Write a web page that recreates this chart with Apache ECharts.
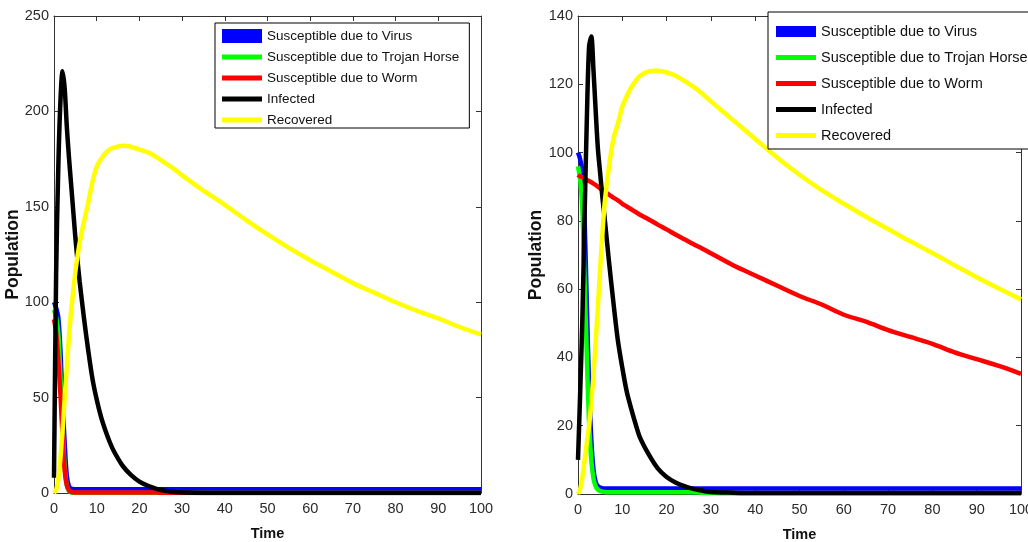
<!DOCTYPE html>
<html>
<head>
<meta charset="utf-8">
<script src="https://cdn.jsdelivr.net/npm/echarts@6/dist/echarts.min.js"></script>
<style>
  html, body { margin: 0; padding: 0; background: #fff; }
  #chart { width: 1028px; height: 542px; }
</style>
</head>
<body>
<div id="chart"></div>
<script>
// Shared time samples (denser at the start where the dynamics are fast)
const time = [0, 0.5, 1, 1.5, 2, 2.5, 3, 3.5, 4, 4.5,
              5, 5.5, 6, 7, 8, 9, 10, 11, 12, 13,
              14, 16, 18, 20, 22, 24, 26, 28, 30, 35,
              40, 45, 50, 55, 60, 65, 70, 75, 80, 85,
              90, 95, 100];

const seriesNames = ['Susceptible due to Virus', 'Susceptible due to Trojan Horse',
                     'Susceptible due to Worm', 'Infected', 'Recovered'];
const seriesColors = ['#0000ff', '#00ff00', '#ff0000', '#000000', '#ffff00'];

const timeTicks = [0, 10, 20, 30, 40, 50, 60, 70, 80, 90, 100];
const popTicksA = [0, 50, 100, 150, 200, 250];
const popTicksB = [0, 20, 40, 60, 80, 100, 120, 140];

// Panel A
const virusA = [100, 97, 92, 75, 48, 26, 9, 3.5, 2.3, 2.1,
                2, 2, 2, 2, 2, 2, 2, 2, 2, 2,
                2, 2, 2, 2, 2, 2, 2, 2, 2, 2,
                2, 2, 2, 2, 2, 2, 2, 2, 2, 2,
                2, 2, 2];
const trojanA = [96, 92, 84, 62, 35, 14, 4, 1, 0.3, 0,
                 0, 0, 0, 0, 0, 0, 0, 0, 0, 0,
                 0, 0, 0, 0, 0, 0, 0, 0, 0, 0,
                 0, 0, 0, 0, 0, 0, 0, 0, 0, 0,
                 0, 0, 0];
const wormA = [91, 84, 70, 52, 30, 12, 4, 1.5, 0.6, 0.3,
               0.2, 0.2, 0.2, 0.2, 0.2, 0.2, 0.2, 0.2, 0.2, 0.2,
               0.2, 0.2, 0.2, 0.2, 0.2, 0.2, 0.1, 0.1, 0, 0,
               0, 0, 0, 0, 0, 0, 0, 0, 0, 0,
               0, 0, 0];
const infectedA = [8, 115, 170, 205, 221, 212, 192, 176, 162, 148,
                   134, 122, 111, 92, 75, 60, 49, 40, 33, 27,
                   22, 14.5, 9.5, 6, 3.8, 2.2, 1.2, 0.5, 0.2, 0,
                   0, 0, 0, 0, 0, 0, 0, 0, 0, 0,
                   0, 0, 0];
const recoveredA = [0, 1.5, 7, 18, 33, 50, 66, 82, 95, 106,
                    116, 124, 131, 142, 152, 163, 171, 175, 178, 180,
                    181, 182, 181.5, 180, 178.5, 176, 173, 170, 166.5, 158.5,
                    151, 143, 135.5, 128.5, 122, 116, 110, 105, 100, 95.5,
                    91.5, 87, 83];

// Panel B
const virusB = [100, 98, 94, 80, 55, 32, 16, 7, 3.5, 2.3,
                1.9, 1.7, 1.6, 1.6, 1.6, 1.6, 1.6, 1.6, 1.6, 1.6,
                1.6, 1.6, 1.6, 1.6, 1.6, 1.6, 1.6, 1.6, 1.6, 1.6,
                1.6, 1.6, 1.6, 1.6, 1.6, 1.6, 1.6, 1.6, 1.6, 1.6,
                1.6, 1.6, 1.6];
const trojanB = [96, 92, 83, 62, 40, 21, 10, 4.5, 2.2, 1.3,
                 0.9, 0.7, 0.6, 0.5, 0.5, 0.5, 0.5, 0.5, 0.5, 0.5,
                 0.5, 0.5, 0.5, 0.5, 0.5, 0.5, 0.5, 0.4, 0.3, 0.2,
                 0.2, 0.2, 0.2, 0.2, 0.2, 0.2, 0.2, 0.2, 0.2, 0.2,
                 0.2, 0.2, 0.2];
const wormB = [93.5, 93, 92.8, 92.5, 92, 91.7, 91.3, 90.9, 90.5, 90,
               89.5, 89, 88.5, 87.7, 86.8, 86, 85, 84.2, 83.4, 82.6,
               81.8, 80.4, 78.9, 77.5, 76, 74.6, 73.2, 71.9, 70.5, 67,
               64, 61, 58, 55.5, 52.5, 50.5, 48, 46, 44, 41.5,
               39.5, 37.5, 35.2];
const infectedB = [10, 30, 52, 82, 110, 131, 134, 124, 112, 101,
                   94, 87, 81, 68, 56, 45, 37, 30, 25, 20.5,
                   16.5, 11.5, 7.5, 5, 3.4, 2.3, 1.5, 1, 0.6, 0.4,
                   0.3, 0.3, 0.3, 0.3, 0.3, 0.3, 0.3, 0.3, 0.3, 0.3,
                   0.3, 0.3, 0.3];
const recoveredB = [0, 1.5, 5, 10, 15, 20, 27, 35, 45, 55,
                    66, 76, 85, 96, 104, 108.5, 113.5, 116.5, 119, 121,
                    122.5, 123.8, 124, 123.5, 122.5, 121, 119.3, 117.3, 115, 109.5,
                    104, 98.5, 93.5, 89, 85, 81.2, 77.6, 74, 70.6, 67,
                    63.5, 60.2, 57];

const panelA = [virusA, trojanA, wormA, infectedA, recoveredA];
const panelB = [virusB, trojanB, wormB, infectedB, recoveredB];

const pairs = ys => time.map((t, i) => [t, ys[i]]);

const SANS = '"Liberation Sans", Arial, Helvetica, sans-serif';
const tickFont = { color: '#2b2b2b', fontFamily: SANS, fontSize: 14.5 };
const frameLine = { show: true, onZero: false, lineStyle: { color: '#333', width: 1 } };
const inTick = { show: true, inside: true, length: 5, lineStyle: { color: '#333' } };

function xAxes(grid) {
  return [
    {
      gridIndex: grid, type: 'value', position: 'bottom', min: 0, max: 100, interval: 10,
      axisLine: frameLine, axisTick: inTick, splitLine: { show: false },
      axisLabel: Object.assign({ margin: 8, customValues: timeTicks }, tickFont),
      name: 'Time', nameLocation: 'middle', nameGap: 33, nameMoveOverlap: false,
      nameTextStyle: { color: '#111', fontWeight: 'bold', fontSize: 14.5, fontFamily: SANS }
    },
    {
      gridIndex: grid, type: 'value', position: 'top', min: 0, max: 100, interval: 10,
      axisLine: frameLine, axisTick: inTick, splitLine: { show: false },
      axisLabel: { show: false }
    }
  ];
}

function yAxes(grid, max, step, ticks, gap) {
  return [
    {
      gridIndex: grid, type: 'value', position: 'left', min: 0, max: max, interval: step,
      axisLine: frameLine, axisTick: inTick, splitLine: { show: false },
      axisLabel: Object.assign({ margin: 5, customValues: ticks }, tickFont),
      name: 'Population', nameLocation: 'middle', nameRotate: 90, nameGap: gap,
      nameMoveOverlap: false,
      nameTextStyle: { color: '#111', fontWeight: 'bold', fontSize: 17.5, fontFamily: SANS }
    },
    {
      gridIndex: grid, type: 'value', position: 'right', min: 0, max: max, interval: step,
      axisLine: frameLine, axisTick: inTick, splitLine: { show: false },
      axisLabel: { show: false }
    }
  ];
}

function lines(panel, xi, yi) {
  return panel.map((ys, k) => ({
    name: seriesNames[k],
    type: 'line',
    xAxisIndex: xi,
    yAxisIndex: yi,
    data: pairs(ys),
    color: seriesColors[k],
    showSymbol: false,
    symbol: 'none',
    smooth: 0.3,
    lineStyle: { width: 4.5, color: seriesColors[k] },
    animation: false,
    clip: true
  }));
}

const bar = 'path://M0,0L40,0L40,5L0,5Z';
function legendItems() {
  return seriesNames.map((n, k) => ({ name: n, icon: k === 0 ? 'rect' : bar }));
}

const chart = echarts.init(document.getElementById('chart'), null, { renderer: 'canvas' });
chart.setOption({
  backgroundColor: '#fff',
  animation: false,
  grid: [
    { left: 54, top: 16, width: 427, height: 477, outerBoundsMode: 'none', containLabel: false },
    { left: 578, top: 16, width: 443, height: 478, outerBoundsMode: 'none', containLabel: false }
  ],
  xAxis: xAxes(0).concat(xAxes(1)),
  yAxis: yAxes(0, 250, 50, popTicksA, 32).concat(yAxes(1, 140, 20, popTicksB, 33)),
  legend: [
    {
      orient: 'vertical', left: 215, top: 23,
      data: legendItems(),
      itemWidth: 40, itemHeight: 14, itemGap: 7,
      padding: [6, 10, 1, 7],
      backgroundColor: '#fff', borderColor: '#000', borderWidth: 1,
      selectedMode: false,
      textStyle: { color: '#111', fontSize: 13.5, lineHeight: 14, fontFamily: SANS }
    },
    {
      orient: 'vertical', left: 768, top: 12,
      data: legendItems(),
      itemWidth: 40, itemHeight: 11, itemGap: 11,
      padding: [12, 10, 6, 8],
      backgroundColor: '#fff', borderColor: '#000', borderWidth: 1,
      selectedMode: false,
      textStyle: { color: '#111', fontSize: 14.5, lineHeight: 15, fontFamily: SANS }
    }
  ],
  series: lines(panelA, 0, 0).concat(lines(panelB, 2, 2))
});
</script>
</body>
</html>
